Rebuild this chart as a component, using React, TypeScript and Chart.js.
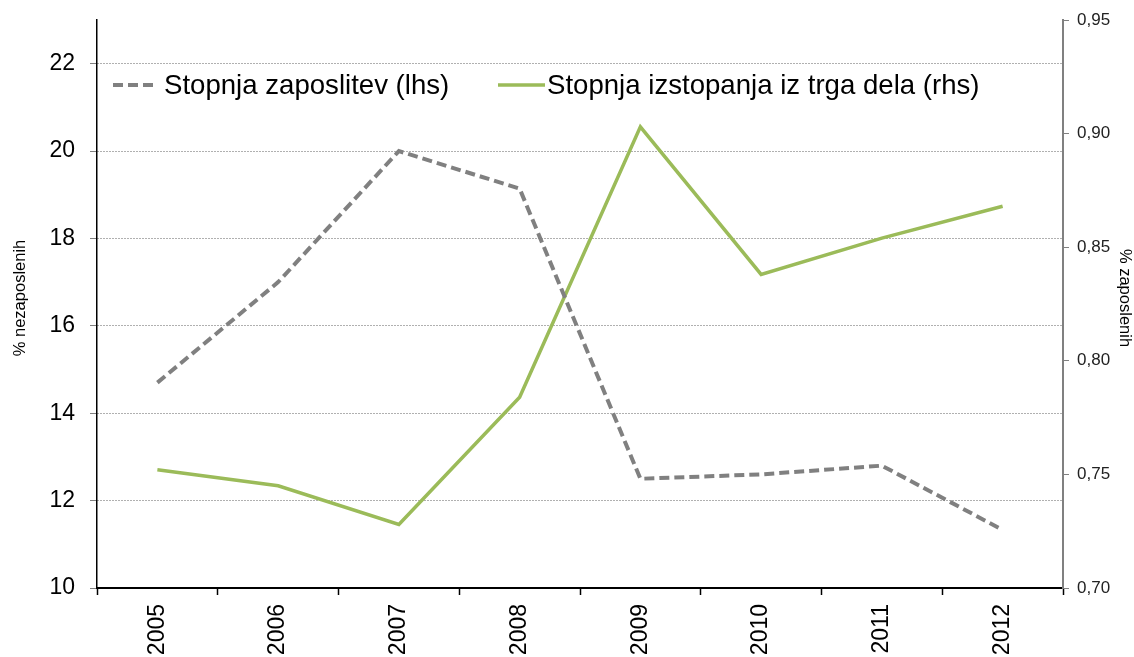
import React, { useEffect, useRef } from 'react';
import { Chart, registerables } from 'chart.js';

Chart.register(...registerables);

const years = ['2005', '2006', '2007', '2008', '2009', '2010', '2011', '2012'];
const employmentRate = [14.7, 17.0, 20.0, 19.14, 12.5, 12.6, 12.8, 11.33];
const exitRate = [0.752, 0.745, 0.728, 0.784, 0.903, 0.838, 0.854, 0.868];
const seriesLabels = ['Stopnja zaposlitev (lhs)', 'Stopnja izstopanja iz trga dela (rhs)'];
const leftTitle = '% nezaposlenih';
const rightTitle = '% zaposlenih';
const leftRange = { min: 10, max: 23, step: 2 };
const rightRange = { min: 0.7, max: 0.95, step: 0.05 };

const FONT = '"Liberation Sans", Arial, Helvetica, sans-serif';
const GREY = '#808080';
const GREEN = '#9BBB59';
const DASH = [10, 5];

const overlayPlugin = {
  id: 'overlay',
  afterDraw(chart: any) {
    const { ctx, chartArea } = chart;
    ctx.save();
    // legend
    const ly = chartArea.top + 65;
    ctx.lineWidth = 4;
    ctx.strokeStyle = GREY;
    ctx.setLineDash(DASH);
    ctx.beginPath();
    ctx.moveTo(chartArea.left + 16, ly);
    ctx.lineTo(chartArea.left + 56, ly);
    ctx.stroke();
    ctx.setLineDash([]);
    ctx.lineWidth = 3.5;
    ctx.strokeStyle = GREEN;
    ctx.beginPath();
    ctx.moveTo(chartArea.left + 401, ly);
    ctx.lineTo(chartArea.left + 448, ly);
    ctx.stroke();
    ctx.fillStyle = '#000';
    ctx.font = `27.6px ${FONT}`;
    ctx.textBaseline = 'alphabetic';
    ctx.textAlign = 'left';
    ctx.fillText(seriesLabels[0], chartArea.left + 67, ly + 9);
    ctx.fillText(seriesLabels[1], chartArea.left + 450, ly + 9);
    // axis titles
    ctx.font = `16.5px ${FONT}`;
    ctx.textAlign = 'center';
    ctx.textBaseline = 'middle';
    const cy = (chartArea.top + chartArea.bottom) / 2 - 6;
    ctx.save();
    ctx.translate(20, cy);
    ctx.rotate(-Math.PI / 2);
    ctx.fillText(leftTitle, 0, 0);
    ctx.restore();
    ctx.save();
    ctx.translate(chart.width - 9, cy);
    ctx.rotate(Math.PI / 2);
    ctx.fillText(rightTitle, 0, 0);
    ctx.restore();
    ctx.restore();
  },
};

export default function App() {
  const ref = useRef<HTMLCanvasElement | null>(null);
  useEffect(() => {
    if (!ref.current) return;
    const chart = new Chart(ref.current, {
      type: 'line',
      data: {
        labels: years,
        datasets: [
          {
            label: seriesLabels[0],
            data: employmentRate,
            yAxisID: 'y',
            borderColor: GREY,
            borderWidth: 4,
            borderDash: DASH,
            pointRadius: 0,
            tension: 0,
            fill: false,
          },
          {
            label: seriesLabels[1],
            data: exitRate,
            yAxisID: 'y1',
            borderColor: GREEN,
            borderWidth: 3.5,
            pointRadius: 0,
            tension: 0,
            fill: false,
          },
        ],
      },
      plugins: [overlayPlugin],
      options: {
        responsive: false,
        animation: false,
        devicePixelRatio: 1,
        layout: { padding: { top: 20, left: 0, right: 0, bottom: 0 } },
        plugins: {
          legend: { display: false },
          tooltip: { enabled: false },
          title: { display: false },
        },
        scales: {
          x: {
            type: 'category',
            offset: true,
            grid: {
              offset: true,
              drawOnChartArea: false,
              drawTicks: true,
              tickLength: 7,
              tickColor: '#000',
              tickWidth: 1.5,
            },
            border: { display: true, color: '#000', width: 2 },
            ticks: {
              color: '#000',
              font: { family: FONT, size: 23 },
              minRotation: 90,
              maxRotation: 90,
              padding: 9,
              autoSkip: false,
            },
            afterFit: (s: any) => {
              s.height = 69;
              s.paddingLeft = 0;
              s.paddingRight = 0;
            },
          },
          y: {
            type: 'linear',
            position: 'left',
            min: leftRange.min,
            max: leftRange.max,
            grid: {
              color: '#606060',
              lineWidth: 1,
              drawTicks: true,
              tickLength: 7,
              tickColor: GREY,
              tickWidth: 1,
              tickBorderDash: [],
            },
            border: { display: true, color: '#000', width: 1.5, dash: [1, 2] },
            ticks: {
              stepSize: leftRange.step,
              includeBounds: false,
              color: '#000',
              font: { family: FONT, size: 23 },
              padding: 15,
            },
            afterFit: (s: any) => {
              s.width = 97;
              s.paddingTop = 0;
              s.paddingBottom = 0;
            },
          },
          y1: {
            type: 'linear',
            position: 'right',
            min: rightRange.min,
            max: rightRange.max,
            grid: {
              drawOnChartArea: false,
              drawTicks: true,
              tickLength: 6,
              tickColor: GREY,
              tickWidth: 1,
            },
            border: { display: true, color: GREY, width: 2 },
            ticks: {
              stepSize: rightRange.step,
              color: '#222',
              font: { family: FONT, size: 17 },
              padding: 8,
              callback: (v: any) => Number(v).toFixed(2).replace('.', ','),
            },
            afterFit: (s: any) => {
              s.width = 71;
              s.paddingTop = 0;
              s.paddingBottom = 0;
            },
          },
        },
      },
    });
    return () => chart.destroy();
  }, []);
  return (
    <div style={{ position: 'absolute', left: 0, top: 0, width: 1134, height: 657, background: '#fff' }}>
      <canvas ref={ref} width={1134} height={657} style={{ display: 'block' }} />
    </div>
  );
}
